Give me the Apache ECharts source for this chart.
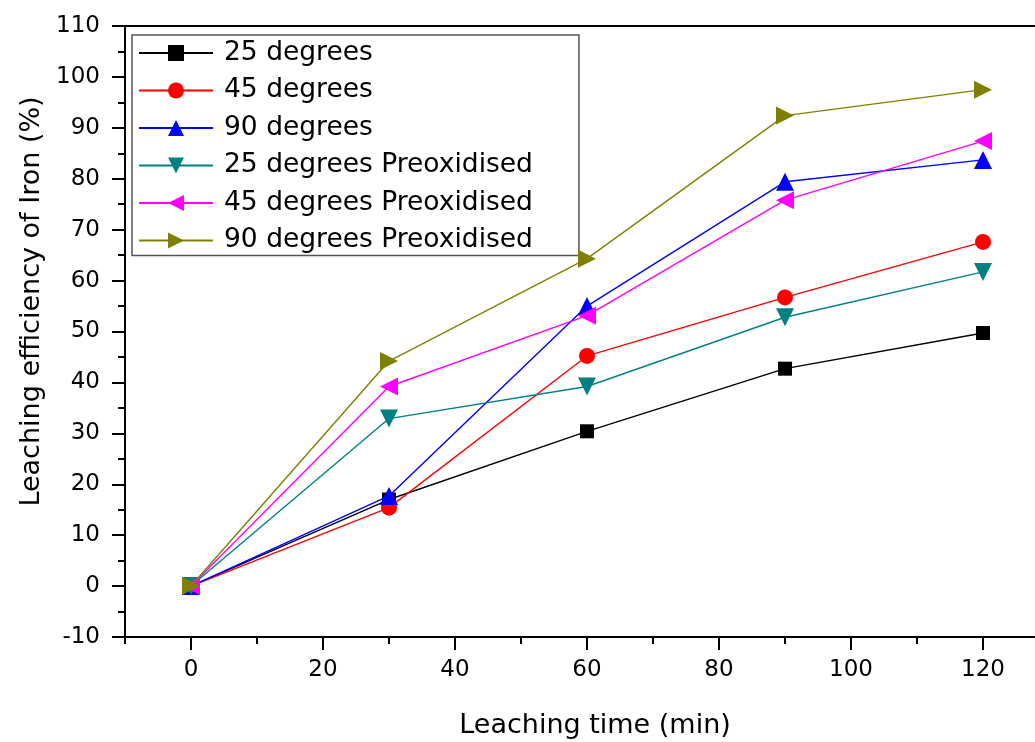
<!DOCTYPE html>
<html>
<head>
<meta charset="utf-8">
<script src="https://cdn.jsdelivr.net/npm/echarts@6/dist/echarts.min.js"></script>
<style>
html,body{margin:0;padding:0;background:#fff;}
#chart{width:1035px;height:742px;}
</style>
</head>
<body>
<div id="chart"></div>
<script>
const times = [0, 30, 60, 90, 120];
const seriesNames = ['25 degrees', '45 degrees', '90 degrees', '25 degrees Preoxidised', '45 degrees Preoxidised', '90 degrees Preoxidised'];
const deg25 = [0, 17.0, 30.4, 42.7, 49.7];
const deg45 = [0, 15.4, 45.2, 56.7, 67.6];
const deg90 = [0, 17.7, 55.0, 79.4, 83.7];
const deg25Pre = [0, 32.9, 39.2, 52.8, 61.7];
const deg45Pre = [0, 39.2, 53.1, 75.8, 87.4];
const deg90Pre = [0, 44.2, 64.3, 92.4, 97.5];
const xTickLabels = [0, 20, 40, 60, 80, 100, 120];
const yTickLabels = [-10, 0, 10, 20, 30, 40, 50, 60, 70, 80, 90, 100, 110];
const xTitle = 'Leaching time (min)';
const yTitle = 'Leaching efficiency of Iron (%)';

const allData = [deg25, deg45, deg90, deg25Pre, deg45Pre, deg90Pre];
const colors = ['#000000', '#ff0000', '#0000ff', '#008080', '#ff00ff', '#808000'];
const symbols = ['rect', 'circle', 'triangle', 'triangle', 'triangle', 'triangle'];
const rotates = [0, 0, 0, 180, 90, -90];
const sizes = [14, 16, 18, 18, 18, 18];
const FONT = 'DejaVu Sans';

const series = allData.map((arr, i) => ({
  name: seriesNames[i],
  type: 'line',
  xAxisIndex: 0,
  data: times.map((t, j) => [t, arr[j]]),
  symbol: symbols[i],
  symbolRotate: rotates[i],
  symbolSize: sizes[i],
  color: colors[i],
  lineStyle: { width: 1.4, color: colors[i] },
  itemStyle: { color: colors[i] },
  emphasis: { disabled: true },
  z: 2 + i
}));

const chart = echarts.init(document.getElementById('chart'), null, { renderer: 'canvas' });
chart.setOption({
  animation: false,
  backgroundColor: '#ffffff',
  grid: {
    left: 125, top: 26, right: -14, bottom: 105,
    outerBoundsMode: 'none', containLabel: false,
    show: true, borderColor: '#000', borderWidth: 2, backgroundColor: 'transparent'
  },
  legend: {
    orient: 'vertical',
    left: 132, top: 35,
    itemWidth: 74, itemHeight: 20, itemGap: 7.5,
    padding: [3, 46, 0, 6],
    borderColor: '#555', borderWidth: 1.5,
    backgroundColor: '#fff',
    textStyle: { fontFamily: FONT, fontSize: 26.5, color: '#000', lineHeight: 30, padding: [0, 0, 0, 6] },
    data: seriesNames
  },
  graphic: [{
    type: 'text',
    x: 595, y: 712,
    silent: true,
    style: { text: xTitle, fontFamily: FONT, fontSize: 27, fill: '#000', align: 'center', verticalAlign: 'top' }
  }],
  xAxis: [{
    type: 'value', min: -10, max: 130, interval: 10,
    position: 'bottom',
    axisLine: { show: true, onZero: false, lineStyle: { color: '#000', width: 2 } },
    axisTick: { show: true, inside: false, length: 7, lineStyle: { color: '#000', width: 2 } },
    axisLabel: { customValues: xTickLabels, fontFamily: FONT, fontSize: 23, color: '#000', margin: 22 },
    splitLine: { show: false }
  }, {
    type: 'value', min: -10, max: 130,
    position: 'bottom', gridIndex: 0,
    axisLine: { show: false, onZero: false },
    axisTick: { show: true, inside: false, length: 13, customValues: xTickLabels, lineStyle: { color: '#000', width: 2 } },
    axisLabel: { show: false },
    splitLine: { show: false }
  }],
  yAxis: {
    type: 'value', min: -10, max: 110, interval: 10,
    name: yTitle, nameLocation: 'middle', nameGap: 80,
    nameTextStyle: { fontFamily: FONT, fontSize: 27, color: '#000', padding: [0, 0, 0, 60] },
    axisLine: { show: true, onZero: false, lineStyle: { color: '#000', width: 2 } },
    axisTick: { show: true, inside: false, length: 13, lineStyle: { color: '#000', width: 2 } },
    minorTick: { show: true, splitNumber: 2, length: 7, lineStyle: { color: '#000', width: 2 } },
    axisLabel: { customValues: yTickLabels, fontFamily: FONT, fontSize: 23, color: '#000', margin: 25 },
    splitLine: { show: false }
  },
  series: series
});
</script>
</body>
</html>
